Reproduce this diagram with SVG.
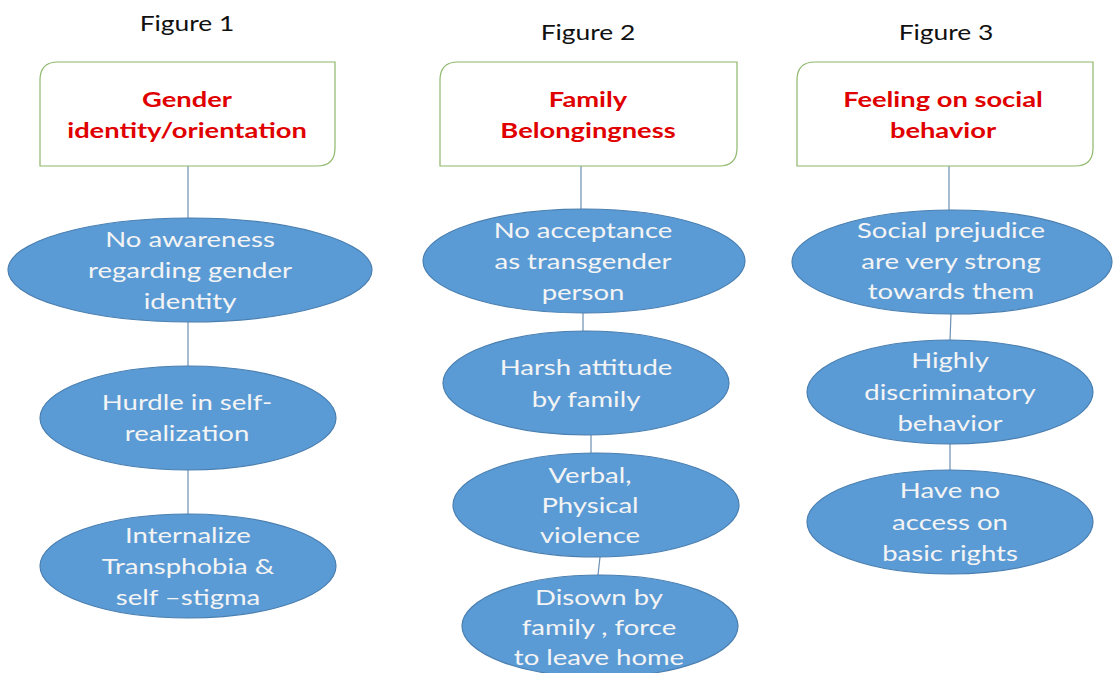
<svg xmlns="http://www.w3.org/2000/svg" width="1119" height="673" viewBox="0 0 1119 673">
  <style>
    .cap { font-family: Lato, "Open Sans", "Liberation Sans", sans-serif; font-size: 22px; fill: #111; text-anchor: middle; }
    .head { fill: #fff; stroke: #8DB86A; stroke-width: 1.2; }
    .head-t { font-family: Lato, "Open Sans", "Liberation Sans", sans-serif; font-size: 21px; font-weight: bold; fill: #E00000; text-anchor: middle; }
    .oval { fill: #5B9BD5; stroke: #4A7FB0; stroke-width: 1.2; }
    .oval-t { font-family: Lato, "Open Sans", "Liberation Sans", sans-serif; font-size: 21px; fill: #F4F4F4; text-anchor: middle; }
    .link { stroke: #6C8FB3; stroke-width: 1.2; fill: none; }
  </style>

  <!-- column captions -->
  <g id="captions">
    <g transform="translate(187 0) scale(1.2 1)"><text class="cap" x="0" y="31">Figure 1</text></g>
    <g transform="translate(588 0) scale(1.2 1)"><text class="cap" x="0" y="40">Figure 2</text></g>
    <g transform="translate(946 0) scale(1.2 1)"><text class="cap" x="0" y="40">Figure 3</text></g>
  </g>

  <!-- connectors -->
  <g id="connectors">
    <line class="link" x1="188" y1="166" x2="188" y2="218"/>
    <line class="link" x1="188" y1="322" x2="188" y2="366"/>
    <line class="link" x1="188" y1="470" x2="188" y2="514"/>
    <line class="link" x1="581" y1="166" x2="581" y2="209"/>
    <line class="link" x1="583" y1="313" x2="583" y2="331"/>
    <line class="link" x1="591" y1="435" x2="591" y2="453"/>
    <line class="link" x1="600" y1="557" x2="598" y2="575"/>
    <line class="link" x1="949" y1="166" x2="949" y2="210"/>
    <line class="link" x1="951" y1="314" x2="950" y2="340"/>
    <line class="link" x1="950" y1="444" x2="950" y2="470"/>
  </g>

  <!-- Figure 1 -->
  <g id="head1">
    <path class="head" d="M58 62 H335 V148 Q335 166 317 166 H40 V80 Q40 62 58 62 Z"/>
    <g transform="translate(187 0) scale(1.3 1)">
      <text class="head-t" x="0" y="107">Gender</text>
      <text class="head-t" x="0" y="138">identity/orientation</text>
    </g>
  </g>
  <g id="n1a">
    <ellipse class="oval" cx="190" cy="270" rx="182" ry="52"/>
    <g transform="translate(190 0) scale(1.31 1)">
      <text class="oval-t" x="0" y="247">No awareness</text>
      <text class="oval-t" x="0" y="278">regarding gender</text>
      <text class="oval-t" x="0" y="309">identity</text>
    </g>
  </g>
  <g id="n1b">
    <ellipse class="oval" cx="188" cy="418" rx="148" ry="52"/>
    <g transform="translate(187 0) scale(1.31 1)">
      <text class="oval-t" x="0" y="410">Hurdle in self-</text>
      <text class="oval-t" x="0" y="441">realization</text>
    </g>
  </g>
  <g id="n1c">
    <ellipse class="oval" cx="188" cy="566" rx="148" ry="52"/>
    <g transform="translate(188 0) scale(1.31 1)">
      <text class="oval-t" x="0" y="543">Internalize</text>
      <text class="oval-t" x="0" y="574">Transphobia &amp;</text>
      <text class="oval-t" x="0" y="605">self –stigma</text>
    </g>
  </g>

  <!-- Figure 2 -->
  <g id="head2">
    <path class="head" d="M458 62 H737 V148 Q737 166 719 166 H440 V80 Q440 62 458 62 Z"/>
    <g transform="translate(588 0) scale(1.3 1)">
      <text class="head-t" x="0" y="107">Family</text>
      <text class="head-t" x="0" y="138">Belongingness</text>
    </g>
  </g>
  <g id="n2a">
    <ellipse class="oval" cx="584" cy="261" rx="161" ry="52"/>
    <g transform="translate(583 0) scale(1.31 1)">
      <text class="oval-t" x="0" y="238">No acceptance</text>
      <text class="oval-t" x="0" y="269">as transgender</text>
      <text class="oval-t" x="0" y="300">person</text>
    </g>
  </g>
  <g id="n2b">
    <ellipse class="oval" cx="586" cy="383" rx="143" ry="52"/>
    <g transform="translate(586 0) scale(1.31 1)">
      <text class="oval-t" x="0" y="375">Harsh attitude</text>
      <text class="oval-t" x="0" y="407">by family</text>
    </g>
  </g>
  <g id="n2c">
    <ellipse class="oval" cx="596" cy="505" rx="143" ry="52"/>
    <g transform="translate(590 0) scale(1.31 1)">
      <text class="oval-t" x="0" y="483">Verbal,</text>
      <text class="oval-t" x="0" y="513">Physical</text>
      <text class="oval-t" x="0" y="543">violence</text>
    </g>
  </g>
  <g id="n2d">
    <ellipse class="oval" cx="600" cy="626" rx="138" ry="51"/>
    <g transform="translate(599 0) scale(1.31 1)">
      <text class="oval-t" x="0" y="605">Disown by</text>
      <text class="oval-t" x="0" y="635">family , force</text>
      <text class="oval-t" x="0" y="665">to leave home</text>
    </g>
  </g>

  <!-- Figure 3 -->
  <g id="head3">
    <path class="head" d="M815 62 H1093 V148 Q1093 166 1075 166 H797 V80 Q797 62 815 62 Z"/>
    <g transform="translate(943 0) scale(1.3 1)">
      <text class="head-t" x="0" y="107">Feeling on social</text>
      <text class="head-t" x="0" y="138">behavior</text>
    </g>
  </g>
  <g id="n3a">
    <ellipse class="oval" cx="952" cy="262" rx="160" ry="52"/>
    <g transform="translate(951 0) scale(1.31 1)">
      <text class="oval-t" x="0" y="238">Social prejudice</text>
      <text class="oval-t" x="0" y="269">are very strong</text>
      <text class="oval-t" x="0" y="299">towards them</text>
    </g>
  </g>
  <g id="n3b">
    <ellipse class="oval" cx="950" cy="392" rx="143" ry="52"/>
    <g transform="translate(950 0) scale(1.31 1)">
      <text class="oval-t" x="0" y="368">Highly</text>
      <text class="oval-t" x="0" y="400">discriminatory</text>
      <text class="oval-t" x="0" y="431">behavior</text>
    </g>
  </g>
  <g id="n3c">
    <ellipse class="oval" cx="950" cy="522" rx="143" ry="52"/>
    <g transform="translate(950 0) scale(1.31 1)">
      <text class="oval-t" x="0" y="498">Have no</text>
      <text class="oval-t" x="0" y="530">access on</text>
      <text class="oval-t" x="0" y="561">basic rights</text>
    </g>
  </g>
</svg>
